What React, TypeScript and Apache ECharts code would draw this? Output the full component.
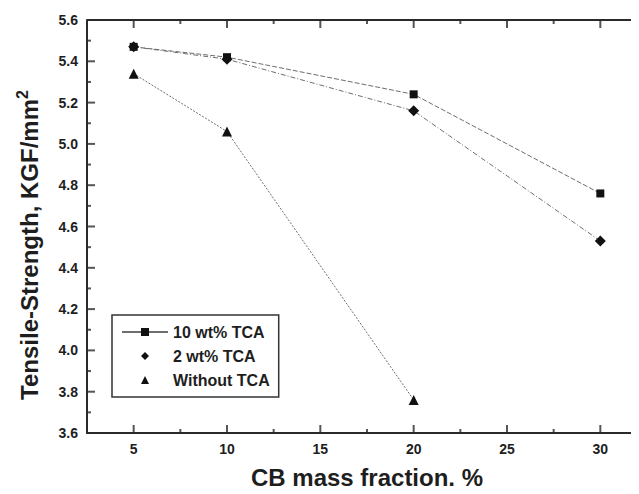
import React, { useEffect, useRef } from "react";
import * as echarts from "echarts";

const xCategories = [5, 10, 20, 30];
const xWithoutTca = [5, 10, 20];
const tca10 = [5.47, 5.42, 5.24, 4.76];
const tca2 = [5.47, 5.41, 5.16, 4.53];
const withoutTca = [5.34, 5.06, 3.76];
const xMajorTicks = [5, 10, 15, 20, 25, 30];
const xMinorTicks = [7.5, 12.5, 17.5, 22.5, 27.5];
const yMajorTicks = [3.6, 3.8, 4.0, 4.2, 4.4, 4.6, 4.8, 5.0, 5.2, 5.4, 5.6];
const yMinorTicks = [3.7, 3.9, 4.1, 4.3, 4.5, 4.7, 4.9, 5.1, 5.3, 5.5];
const seriesNames = ["10 wt% TCA", "2 wt% TCA", "Without TCA"];

const FONT = "'Liberation Sans', Arial, sans-serif";
const AXIS_COLOR = "#2a2a2a";
const TEXT_COLOR = "#1e1e1e";
const X_MIN = 2.5;
const X_MAX = 32.5;
const Y_MIN = 3.6;
const Y_MAX = 5.6;

type TickSpec = {
  data: number[][];
  size: number[];
  offset: number[];
};

export default function App() {
  const ref = useRef<HTMLDivElement>(null);
  useEffect(() => {
    if (!ref.current) return;
    const chart = echarts.init(ref.current, null, { renderer: "svg" });
    const axisLineStyle = { color: AXIS_COLOR, width: 2 };

    // tick marks placed through the axes' own scales (inside ticks on all four sides)
    const tickSpecs: TickSpec[] = [
      { data: xMajorTicks.map((v) => [v, Y_MIN]), size: [2, 8], offset: [0, -4] },
      { data: xMajorTicks.map((v) => [v, Y_MAX]), size: [2, 8], offset: [0, 4] },
      { data: xMinorTicks.map((v) => [v, Y_MIN]), size: [2, 4], offset: [0, -2] },
      { data: xMinorTicks.map((v) => [v, Y_MAX]), size: [2, 4], offset: [0, 2] },
      { data: yMajorTicks.map((v) => [X_MIN, v]), size: [8, 2], offset: [4, 0] },
      { data: yMajorTicks.map((v) => [X_MAX, v]), size: [8, 2], offset: [-4, 0] },
      { data: yMinorTicks.map((v) => [X_MIN, v]), size: [4, 2], offset: [2, 0] },
      { data: yMinorTicks.map((v) => [X_MAX, v]), size: [4, 2], offset: [-2, 0] },
    ];
    const tickSeries = tickSpecs.map((t, i) => ({
      name: "tick" + i,
      type: "scatter",
      silent: true,
      clip: false,
      z: 2,
      symbol: "rect",
      symbolSize: t.size,
      symbolOffset: t.offset,
      itemStyle: { color: AXIS_COLOR },
      data: t.data,
    }));

    const lineColor = "#6e6e6e";
    chart.setOption({
      animation: false,
      backgroundColor: "#ffffff",
      grid: { left: 87, top: 20, width: 560, height: 413, containLabel: false, outerBoundsMode: "none" },
      tooltip: { show: false },
      xAxis: [
        {
          type: "value",
          min: X_MIN,
          max: X_MAX,
          position: "bottom",
          splitLine: { show: false },
          axisLine: { onZero: false, lineStyle: axisLineStyle },
          axisTick: { show: false },
          name: "CB mass fraction, %",
          nameLocation: "middle",
          nameGap: 32,
          nameTextStyle: { fontFamily: FONT, fontSize: 24, fontWeight: "bold", color: TEXT_COLOR },
          axisLabel: {
            customValues: xMajorTicks,
            fontFamily: FONT,
            fontSize: 14,
            fontWeight: "bold",
            color: TEXT_COLOR,
            margin: 9,
          },
        },
      ],
      yAxis: [
        {
          type: "value",
          min: Y_MIN,
          max: Y_MAX,
          interval: 0.2,
          position: "left",
          splitLine: { show: false },
          axisLine: { show: true, onZero: false, lineStyle: axisLineStyle },
          axisTick: { show: false },
          axisLabel: {
            fontFamily: FONT,
            fontSize: 14,
            fontWeight: "bold",
            color: TEXT_COLOR,
            margin: 9,
            formatter: (v: number) => Number(v).toFixed(1),
          },
        },
      ],
      legend: {
        orient: "vertical",
        left: 112,
        top: 315,
        padding: [9, 9, 9, 9],
        itemGap: 8,
        itemWidth: 46,
        itemHeight: 10,
        borderColor: "#333",
        borderWidth: 1.5,
        textStyle: { fontFamily: FONT, fontSize: 16, fontWeight: "bold", color: TEXT_COLOR },
        data: [
          { name: seriesNames[0], lineStyle: { type: "solid" } },
          { name: seriesNames[1], lineStyle: { width: 0, opacity: 0 } },
          { name: seriesNames[2], lineStyle: { width: 0, opacity: 0 } },
        ],
      },
      graphic: [
        {
          type: "text",
          x: 29,
          y: 245,
          rotation: Math.PI / 2,
          style: {
            text: "{a|Tensile-Strength, KGF/mm}{s|2}",
            align: "center",
            verticalAlign: "middle",
            fill: TEXT_COLOR,
            rich: {
              a: { fontFamily: FONT, fontSize: 24, fontWeight: "bold", fill: TEXT_COLOR, lineHeight: 30 },
              s: { fontFamily: FONT, fontSize: 16, fontWeight: "bold", fill: TEXT_COLOR, lineHeight: 16, verticalAlign: "top" },
            },
          },
        },
      ],
      series: [
        ...tickSeries,
        {
          name: "topBorder",
          type: "line",
          silent: true,
          clip: false,
          z: 2,
          showSymbol: false,
          symbol: "none",
          lineStyle: { color: AXIS_COLOR, width: 2, type: "solid" },
          data: [
            [X_MIN, Y_MAX],
            [X_MAX, Y_MAX],
          ],
        },
        {
          name: seriesNames[0],
          type: "line",
          data: xCategories.map((x, i) => [x, tca10[i]]),
          symbol: "rect",
          symbolSize: 8,
          itemStyle: { color: "#111" },
          lineStyle: { color: lineColor, width: 1, type: [5, 2] },
          z: 3,
        },
        {
          name: seriesNames[1],
          type: "line",
          data: xCategories.map((x, i) => [x, tca2[i]]),
          symbol: "diamond",
          symbolSize: 11,
          itemStyle: { color: "#111" },
          lineStyle: { color: lineColor, width: 1, type: [5, 2, 1, 2] },
          z: 4,
        },
        {
          name: seriesNames[2],
          type: "line",
          data: xWithoutTca.map((x, i) => [x, withoutTca[i]]),
          symbol: "triangle",
          symbolSize: 10,
          itemStyle: { color: "#111" },
          lineStyle: { color: lineColor, width: 1, type: [2, 1.5] },
          z: 5,
        },
      ],
    });
    return () => chart.dispose();
  }, []);
  return (
    <div style={{ margin: -8, width: 639, height: 494, overflow: "hidden" }}>
      <div ref={ref} style={{ width: 660, height: 494 }} />
    </div>
  );
}
